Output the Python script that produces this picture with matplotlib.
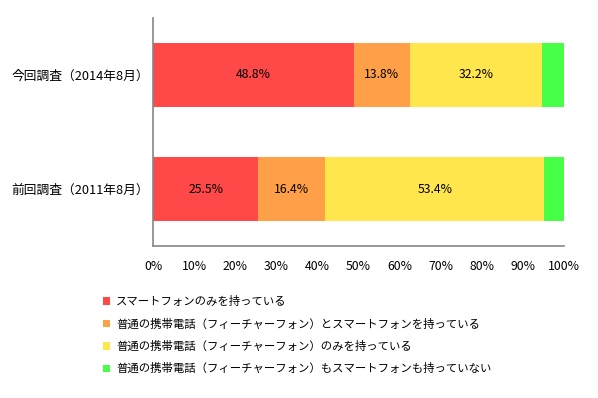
import matplotlib
matplotlib.use("Agg")
import matplotlib.pyplot as plt
from matplotlib.patches import Patch

plt.rcParams['font.family'] = ['Noto Sans CJK JP', 'DejaVu Sans']

categories = ["今回調査（2014年8月）", "前回調査（2011年8月）"]
series_names = [
    "スマートフォンのみを持っている",
    "普通の携帯電話（フィーチャーフォン）とスマートフォンを持っている",
    "普通の携帯電話（フィーチャーフォン）のみを持っている",
    "普通の携帯電話（フィーチャーフォン）もスマートフォンも持っていない",
]
smartphone_only = [48.8, 25.5]
both = [13.8, 16.4]
feature_only = [32.2, 53.4]
neither = [5.2, 4.7]
series_values = [smartphone_only, both, feature_only, neither]
colors = ["#FF4848", "#FFA048", "#FFE64C", "#48FF48"]
show_label = [True, True, True, False]
xticks = [0, 10, 20, 30, 40, 50, 60, 70, 80, 90, 100]
xtick_labels = [f"{t}%" for t in xticks]

fig = plt.figure(figsize=(5.98, 3.98), dpi=100)
ax = fig.add_axes([0.2564, 0.3819, 0.6862, 0.5729])

ypos = list(range(len(categories)))
left = [0.0] * len(categories)
for vals, col, lab, show in zip(series_values, colors, series_names, show_label):
    bars = ax.barh(ypos, vals, left=left, height=0.56, color=col, label=lab)
    if show:
        for b, v in zip(bars, vals):
            ax.text(b.get_x() + b.get_width() / 2, b.get_y() + b.get_height() / 2,
                    f"{v:.1f}%", ha="center", va="center", fontsize=8.8, color="#000000")
    left = [l + v for l, v in zip(left, vals)]

ax.set_xlim(0, 100)
ax.set_ylim(len(categories) - 0.5, -0.5)
ax.set_yticks(ypos)
ax.set_yticklabels(categories, fontsize=9.2)
ax.set_xticks(xticks)
ax.set_xticklabels(xtick_labels, fontsize=8.8)
ax.tick_params(axis="both", length=0)
ax.tick_params(axis="y", pad=3)
ax.tick_params(axis="x", pad=10)
for s in ["top", "right"]:
    ax.spines[s].set_visible(False)
for s in ["left", "bottom"]:
    ax.spines[s].set_color("#868686")
    ax.spines[s].set_linewidth(1.2)

handles = [Patch(facecolor=c, edgecolor="none") for c in colors]
fig.legend(handles, series_names, loc="upper left", bbox_to_anchor=(0.172, 0.256),
           frameon=False, fontsize=8.2, handlelength=0.62, handleheight=0.62,
           handletextpad=0.55, labelspacing=0.98, borderaxespad=0, borderpad=0)

fig.savefig("out.png", dpi=100)
